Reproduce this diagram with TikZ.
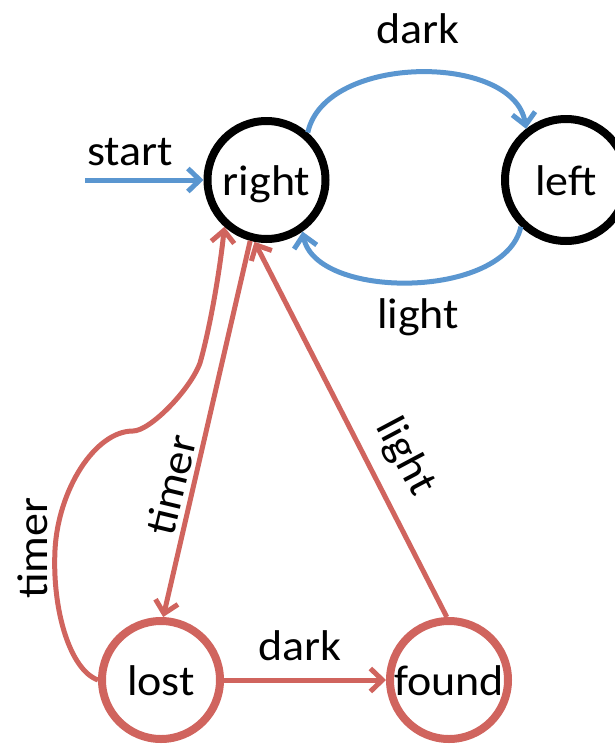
\documentclass[tikz,border=0pt]{standalone}
\usepackage{fontspec}
\setmainfont{Carlito}[FakeStretch=1.07]
\usetikzlibrary{arrows.meta}
\definecolor{fsmblue}{RGB}{90,150,208}
\definecolor{fsmred}{RGB}{208,100,94}
\begin{document}
\begin{tikzpicture}[x=1pt,y=-1pt,
  state/.style={circle, draw, line width=8pt, minimum size=118pt, inner sep=0pt,
    text height=30pt, text depth=0pt, font=\fontsize{43}{50}\selectfont},
  lbl/.style={font=\fontsize{43}{50}\selectfont, inner sep=0pt, anchor=base},
  rlbl/.style={font=\fontsize{43}{50}\selectfont, inner sep=0pt, anchor=center},
  tip/.style={-{Straight Barb[length=12pt,width=23pt]}},
  bluearr/.style={draw=fsmblue, line width=5pt, tip},
  redarr/.style={draw=fsmred, line width=5pt, tip}]
\useasboundingbox (0,0) rectangle (615,747);

% states
\node[state, draw=black] (right) at (266.5,180) {right};
\node[state, draw=black, minimum size=122pt] (left) at (566,180) {left};
\node[state, draw=fsmred] (lost) at (161,680) {lost};
\node[state, draw=fsmred] (found) at (449,680) {found};

% blue transitions
\coordinate (startpt) at (85,180);
\draw[bluearr] (startpt) -- (right);
\draw[bluearr] (right.49) .. controls (325,53) and (515,53) .. (left.128);
\draw[bluearr] (left.226) .. controls (505,300) and (315,300) .. (right.-55);

% red transitions
\draw[redarr] (lost.180) .. controls (70,670) and (52,610) .. (55,550)
  .. controls (58,490) and (95,431) .. (133,431)
  .. controls (150,431) and (190,390) .. (200,363)
  .. controls (210,328) and (220,270) .. (right.228);
\draw[redarr] (right.255) -- (lost.88);
\draw[redarr] (found.92) -- (right.259);
\draw[redarr] (lost) -- (found);

% labels
\node[lbl] (lstart) at (130,165) {start};
\node[lbl] (ldarktop) at (418,43) {dark};
\node[lbl] (llighttop) at (418,328) {light};
\node[lbl] (ldarkbot) at (300,660) {dark};
\node[lbl, rotate=90] (ltimerleft) at (47,548) {timer};
\node[rlbl, rotate=76.5] (ltimermid) at (171,485) {timer};
\node[rlbl, rotate=-62] (llightmid) at (405,457) {light};
\end{tikzpicture}
\end{document}
